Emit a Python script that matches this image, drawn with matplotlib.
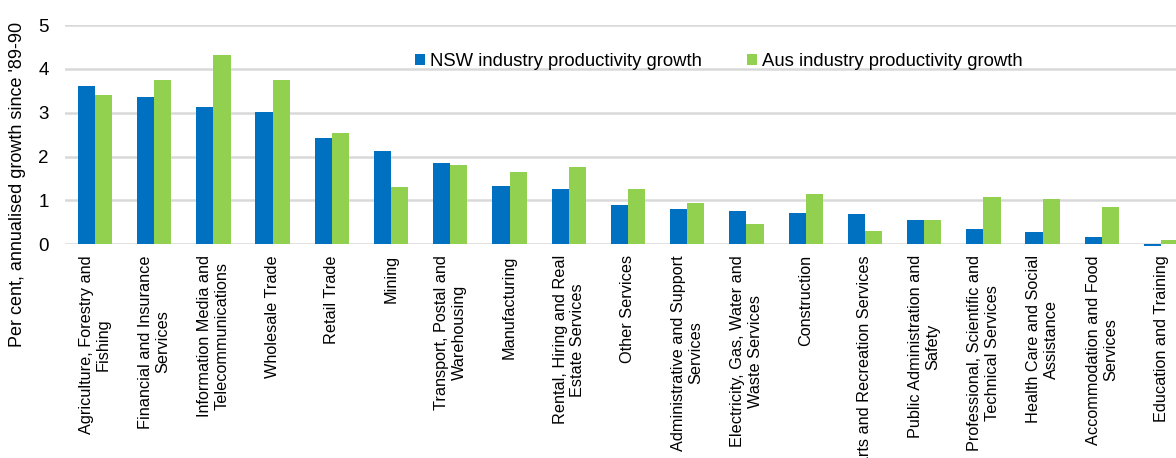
import numpy as np
import matplotlib
matplotlib.use('Agg')
import matplotlib.pyplot as plt

plt.rcParams['font.family'] = ['Liberation Sans', 'DejaVu Sans']

# industries, ordered by NSW growth
industries = ['Agriculture, Forestry and\nFishing',
              'Financial and Insurance\nServices',
              'Information Media and\nTelecommunications',
              'Wholesale Trade',
              'Retail Trade',
              'Mining',
              'Transport, Postal and\nWarehousing',
              'Manufacturing',
              'Rental, Hiring and Real\nEstate Services',
              'Other Services',
              'Administrative and Support\nServices',
              'Electricity, Gas, Water and\nWaste Services',
              'Construction',
              'Arts and Recreation Services',
              'Public Administration and\nSafety',
              'Professional, Scientific and\nTechnical Services',
              'Health Care and Social\nAssistance',
              'Accommodation and Food\nServices',
              'Education and Training']

nsw_growth = [3.61, 3.35, 3.13, 3.01, 2.43, 2.12, 1.86, 1.32, 1.25, 0.89,
              0.81, 0.75, 0.72, 0.68, 0.54, 0.35, 0.28, 0.16, -0.04]
aus_growth = [3.40, 3.74, 4.33, 3.74, 2.54, 1.30, 1.80, 1.64, 1.76, 1.27,
              0.94, 0.47, 1.14, 0.30, 0.54, 1.07, 1.03, 0.84, 0.10]

y_ticks = [0, 1, 2, 3, 4, 5]

blue = '#0070C0'
green = '#92D050'

fig = plt.figure(figsize=(11.76, 4.58), dpi=100)
# the last category runs off the right edge
ax = fig.add_axes([0.0555, 0.467, 0.957, 0.478])

x = np.arange(len(industries))
w = 0.29
b1 = ax.bar(x - w / 2, nsw_growth, w, color=blue, label='NSW industry productivity growth', zorder=3)
b2 = ax.bar(x + w / 2, aus_growth, w, color=green, label='Aus industry productivity growth', zorder=3)
# let the small negative bar hang below the zero line
for p in list(b1) + list(b2):
    p.set_clip_on(False)

ax.set_xlim(-0.5, len(industries) - 0.5)
ax.set_ylim(0, 5)
ax.set_yticks(y_ticks)
ax.set_yticklabels([str(t) for t in y_ticks], fontsize=13.5)
ax.yaxis.grid(True, color='#D9D9D9', linewidth=1.8, zorder=0)
ax.set_axisbelow(True)
for s in ax.spines.values():
    s.set_visible(False)
ax.tick_params(axis='y', length=0, pad=12)
ax.tick_params(axis='x', length=0, pad=8)

ax.set_xticks(x)
ax.set_xticklabels(industries, rotation=90, fontsize=11.7, ha='center', va='top',
                   multialignment='center')

fig.text(0.015, 0.598, "Per cent, annualised growth since '89-90", rotation=90,
         ha='center', va='center', fontsize=13)

ax.legend(loc='upper left', bbox_to_anchor=(0.296, 0.947), ncol=2, frameon=False,
          fontsize=13.3, handlelength=0.55, handleheight=0.55, handletextpad=0.25,
          columnspacing=2.45)

fig.savefig('out.png', dpi=100)
